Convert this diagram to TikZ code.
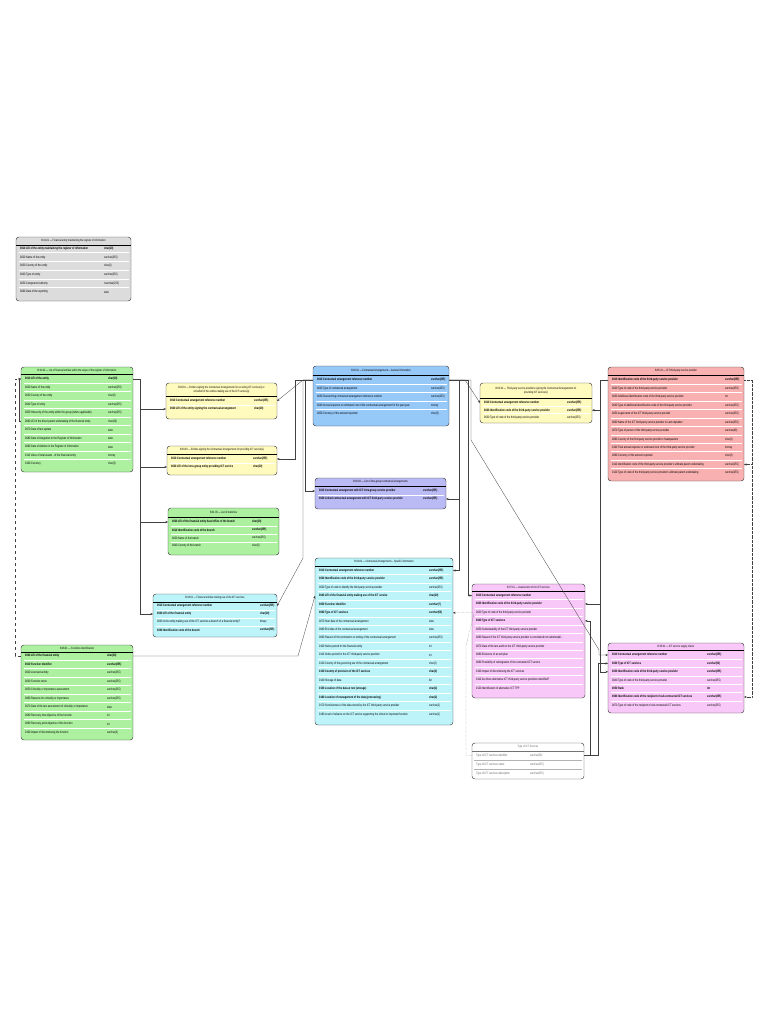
\documentclass[tikz,border=0pt]{standalone}
\usepackage{fontspec}
\setmainfont{Liberation Sans}[FakeStretch=0.72]
\usetikzlibrary{arrows.meta}
\definecolor{cgrey}{RGB}{220,220,220}
\definecolor{cgreen}{RGB}{172,240,160}
\definecolor{cyellow}{RGB}{255,250,190}
\definecolor{cblue}{RGB}{150,200,248}
\definecolor{cpurple}{RGB}{186,186,244}
\definecolor{ccyan}{RGB}{188,244,250}
\definecolor{csalmon}{RGB}{248,176,176}
\definecolor{cpink}{RGB}{248,200,248}
\newcommand\rowfont{\fontsize{3.3}{3.6}\selectfont}
\newcommand\hdrfont{\fontsize{3.1}{4.2}\selectfont}
\tikzset{
  tbox/.style={draw=black!75, line width=0.45pt, rounded corners=3pt, inner sep=0pt, outer sep=0pt, anchor=north west},
  hdr/.style={font=\hdrfont, align=center, inner sep=0pt},
  rtxt/.style={font=\rowfont, inner sep=0pt, anchor=west},
  sepline/.style={white, line width=0.8pt},
  hline/.style={black, line width=0.9pt},
  conn/.style={draw=black!75, line width=0.3pt, -{Stealth[length=2.6pt,width=2.2pt]}},
  conndot/.style={conn, densely dotted},
}
% #1 name #2 x1 #3 y1 #4 x2 #5 y2 #6 colour #7 header #8 header line y
\newcommand\ertbl[8]{%
  \node[tbox, fill=#6, minimum width={#4-#2}, minimum height={#5-#3}] (#1) at (#2,#3) {};
  \node[hdr] (#1-h) at ({(#2+#4)/2},{(#3+#8)/2}) {#7};
  \draw[hline] (#2,#8) -- (#4,#8);
}
% #1 name #2 x1 #3 x2 #4 first y #5 dy #6 type offset #7 list
\newcommand\ertrows[7]{%
  \foreach \rc/\rt/\ry/\rb [count=\ri] in {#7}{%
    \pgfmathsetmacro\yy{#4+(\ri-1)*#5}
    \ifnum\ri>1 \draw[sepline] (#2+2.5,\yy-#5/2) -- (#3-2.5,\yy-#5/2);\fi
    \node[rtxt] (#1-\ri) at (#2+4,\yy) {\ifnum\rb=1 \bfseries\fi\rc\ \rt};
    \node[rtxt] (#1-\ri t) at (#2+#6,\yy) {\ifnum\rb=1 \bfseries\fi\ry};
    \coordinate (#1-\ri-w) at (#2,\yy);
    \coordinate (#1-\ri-e) at (#3,\yy);
  }}
\begin{document}
\begin{tikzpicture}[x=1pt,y=-1pt]
\useasboundingbox (0,0) rectangle (768,1024);
\fill[white] (0,0) rectangle (768,1024);

% B.01.01
\ertbl{ba}{16}{237}{131}{301}{cgrey}{B.01.01 — Financial entity maintaining the register of information}{245}
\ertrows{ba}{16}{131}{248.5}{8.7}{88}{0010/LEI of the entity maintaining the register of information/char(20)/1,
0020/Name of the entity/varchar(255)/0,
0030/Country of the entity/char(2)/0,
0040/Type of entity/varchar(255)/0,
0050/Competent Authority/nvarchar(255)/0,
0060/Date of the reporting/date/0}

% B.01.02
\ertbl{bb}{21}{367}{133}{472}{cgreen}{B.01.02 — List of financial entities within the scope of the register of information}{374}
\ertrows{bb}{21}{133}{379}{8.5}{87}{0010/LEI of the entity/char(20)/1,
0020/Name of the entity/varchar(255)/0,
0030/Country of the entity/char(2)/0,
0040/Type of entity/varchar(255)/0,
0050/Hierarchy of the entity within the group (where applicable)/varchar(255)/0,
0060/LEI of the direct parent undertaking of the financial entity/char(20)/0,
0070/Date of last update/date/0,
0080/Date of integration in the Register of information/date/0,
0090/Date of deletion in the Register of information/date/0,
0110/Value of total assets - of the financial entity/money/0,
0100/Currency/char(3)/0}

% B.03.01
\ertbl{ca}{166}{383}{277}{419}{cyellow}{B.03.01 — Entities signing the Contractual Arrangements for receiving ICT service(s) or\\on behalf of the entities making use of the ICT service(s)}{396}
\ertrows{ca}{166}{277}{401}{8}{88}{0010/Contractual arrangement reference number/varchar(255)/1,
0020/LEI of the entity signing the contractual arrangement/char(20)/1}

% B.03.03
\ertbl{cc}{167}{446}{277}{475}{cyellow}{B.03.03 — Entities signing the Contractual Arrangements for providing ICT service(s)}{454}
\ertrows{cc}{167}{277}{459}{8}{86}{0010/Contractual arrangement reference number/varchar(255)/1,
0020/LEI of the intra-group entity providing ICT service/char(20)/1}

% B.02.01
\ertbl{da}{313}{366}{449}{426}{cblue}{B.02.01 — Contractual Arrangements – General Information}{375}
\ertrows{da}{313}{449}{380}{8.5}{118}{0010/Contractual arrangement reference number/varchar(255)/1,
0020/Type of contractual arrangement/varchar(255)/0,
0030/Overarching contractual arrangement reference number/varchar(255)/0,
0040/Annual expense or estimated cost of the contractual arrangement for the past year/money/0,
0050/Currency of the amount reported/char(3)/0}

% B.02.03
\ertbl{dc}{315}{478}{446}{509}{cpurple}{B.02.03 — List of intra-group contractual arrangements}{486}
\ertrows{dc}{315}{446}{491}{8}{108}{0010/Contractual arrangement with ICT intra-group service provider/varchar(255)/1,
0020/Linked contractual arrangement with ICT third-party service provider/varchar(255)/1}

% B.03.02
\ertbl{cb}{480}{383}{592}{423}{cyellow}{B.03.02 — Third-party service providers signing the Contractual Arrangements for\\providing ICT service(s)}{398}
\ertrows{cb}{480}{592}{403}{7.2}{87}{0010/Contractual arrangement reference number/varchar(255)/1,
0020/Identification code of the third-party service provider/varchar(255)/1,
0030/Type of code of the third-party service provider/varchar(255)/0}

% B.05.01
\ertbl{ea}{608}{367}{744}{481}{csalmon}{B.05.01 — ICT third-party service provider}{375}
\ertrows{ea}{608}{744}{380}{8.45}{117}{0010/Identification code of the third-party service provider/varchar(255)/1,
0020/Type of code of the third-party service provider/varchar(255)/0,
0030/Additional identification code of the third-party service provider/txt/0,
0040/Type of additional identification code of the third-party service provider/varchar(255)/0,
0050/Legal name of the ICT third-party service provider/varchar(255)/0,
0060/Name of the ICT third-party service provider in Latin alphabet/varchar(255)/0,
0070/Type of person of the third-party service provider/varchar(40)/0,
0080/Country of the third-party service provider's headquarters/char(2)/0,
0100/Total annual expense or estimated cost of the third-party service provider/money/0,
0090/Currency of the amount reported/char(3)/0,
0110/Identification code of the third-party service provider's ultimate parent undertaking/varchar(255)/0,
0120/Type of code of the third-party service provider's ultimate parent undertaking/varchar(255)/0}

% B.01.03
\ertbl{bc}{168}{508}{279}{555}{cgreen}{B.01.03 — List of branches}{517}
\ertrows{bc}{168}{279}{522}{8}{84}{0020/LEI of the financial entity head office of the branch/char(20)/1,
0010/Identification code of the branch/varchar(255)/1,
0030/Name of the branch/varchar(255)/0,
0040/Country of the branch/char(2)/0}

% B.04.01
\ertbl{fa}{153}{594}{277}{637}{ccyan}{B.04.01 — Financial entities making use of the ICT services}{602}
\ertrows{fa}{153}{277}{606}{8}{107}{0010/Contractual arrangement reference number/varchar(255)/1,
0020/LEI of the financial entity/char(20)/1,
0030/Is the entity making use of the ICT services a branch of a financial entity?/binary/0,
0040/Identification code of the branch/varchar(255)/1}

% B.06.01
\ertbl{ga}{21}{645}{133}{740}{cgreen}{B.06.01 — Functions Identification}{652}
\ertrows{ga}{21}{133}{656}{8.5}{86}{0040/LEI of the financial entity/char(20)/1,
0010/Function Identifier/varchar(255)/1,
0020/Licensed activity/varchar(255)/0,
0030/Function name/varchar(255)/0,
0050/Criticality or importance assessment/varchar(255)/0,
0060/Reasons for criticality or importance/varchar(255)/0,
0070/Date of the last assessment of criticality or importance/date/0,
0080/Recovery time objective of the function/int/0,
0090/Recovery point objective of the function/int/0,
0100/Impact of discontinuing the function/varchar(3)/0}

% B.02.02
\ertbl{db}{315}{558}{453}{725}{ccyan}{B.02.02 — Contractual Arrangements – Specific information}{566}
\ertrows{db}{315}{453}{570.5}{8.45}{114}{0010/Contractual arrangement reference number/varchar(255)/1,
0020/Identification code of the third-party service provider/varchar(255)/1,
0030/Type of code to identify the third-party service provider/varchar(255)/0,
0040/LEI of the financial entity making use of the ICT service/char(20)/1,
0050/Function Identifier/varchar(?)/1,
0060/Type of ICT services/varchar(50)/1,
0070/Start date of the contractual arrangement/date/0,
0080/End date of the contractual arrangement/date/0,
0090/Reason of the termination or ending of the contractual arrangement/varchar(255)/0,
0100/Notice period for the financial entity/int/0,
0110/Notice period for the ICT third-party service provider/int/0,
0120/Country of the governing law of the contractual arrangement/char(2)/0,
0130/Country of provision of the ICT services/char(2)/1,
0140/Storage of data/bit/0,
0150/Location of the data at rest (storage)/char(2)/1,
0160/Location of management of the data (processing)/char(2)/1,
0170/Sensitiveness of the data stored by the ICT third-party service provider/varchar(2)/0,
0180/Level of reliance on the ICT service supporting the critical or important function/varchar(2)/0}

% B.07.01
\ertbl{ha}{472}{584}{585}{698}{cpink}{B.07.01 — Assessment of the ICT services}{591}
\ertrows{ha}{472}{585}{595.5}{8.45}{110}{0010/Contractual arrangement reference number/{}/1,
0020/Identification code of the third-party service provider/{}/1,
0030/Type of code of the third-party service provider/{}/0,
0040/Type of ICT services/{}/1,
0050/Substitutability of the ICT third-party service provider/{}/0,
0060/Reason if the ICT third-party service provider is considered not substitutabl\ldots/{}/0,
0070/Date of the last audit on the ICT third-party service provider/{}/0,
0080/Existence of an exit plan/{}/0,
0090/Possibility of reintegration of the contracted ICT service/{}/0,
0100/Impact of discontinuing the ICT services/{}/0,
0110/Are there alternative ICT third-party service providers identified?/{}/0,
0120/Identification of alternative ICT TPP/{}/0}

% B.05.02
\ertbl{eb}{608}{643}{744}{713}{cpink}{B.05.02 — ICT service supply chains}{650}
\ertrows{eb}{608}{744}{655}{8.4}{99}{0010/Contractual arrangement reference number/varchar(255)/1,
0020/Type of ICT services/varchar(50)/1,
0030/Identification code of the third-party service provider/varchar(255)/1,
0040/Type of code of the third-party service provider/varchar(255)/0,
0050/Rank/int/1,
0060/Identification code of the recipient of sub-contracted ICT services/varchar(255)/1,
0070/Type of code of the recipient of sub-contracted ICT services/varchar(255)/0}

% Type of ICT Services
\begin{scope}[every node/.append style={text=black!60}]
\ertbl{ta}{472}{743}{584}{779}{white}{Type of ICT Services}{751}
\end{scope}
\draw[white,line width=2pt] (473,751) -- (583,751);
\draw[black!55,line width=0.6pt] (472,751) -- (584,751);
\begin{scope}[every node/.append style={text=black!60}]
\ertrows{ta}{472}{584}{755.5}{9}{58}{Type of ICT services identifier/{}/varchar(50)/0,
Type of ICT services name/{}/varchar(255)/0,
Type of ICT services description/{}/varchar(255)/0}
\end{scope}
\foreach \k in {1,2} \draw[black!30,line width=0.3pt] (474,{755.5+(\k-0.5)*9}) -- (582,{755.5+(\k-0.5)*9});

% ---------- connectors ----------
% B.01.02 self reference and B.06.01
\draw[conn,dashed] (ga-1-w) -- ++(-6,0) |- (bb-1-w);
\draw[conn] (bb-6-w) -- ++(-2,0) |- (bb-1-w);
% B.01.02 LEI to users
\draw[conn] (bb-1-e) -- ++(7,0) |- (ca-2-w);
\draw[conn] (bb-1-e) -- ++(7,0) |- (cc-2-w);
\draw[conn] (bb-1-e) -- ++(7,0) |- (bc-1-w);
\draw[conn] (bb-1-e) -- ++(7,0) |- (fa-2-w);
% B.06.01 to B.02.02
\draw[conn] (ga-1-e) -- ++(165,0) -- (db-4-w);
% B.02.01 left side
\draw[conn] (da-1-w) -- ++(-10,0) -- (ca-1-e);
\draw[conn] (da-1-w) -- ++(-18,0) |- (cc-1-e);
\draw[conn] (da-1-w) -- ++(-8,0) |- (dc-1-w);
\draw[conn] (da-1-w) -- ++(-10,0) -- ++(0,178) -- (fa-1-e);
% B.02.01 right side
\draw[conn] (da-1-e) -- ++(10,0) |- (db-1-e);
\draw[conn] (da-1-e) -- ++(10,0) |- (dc-2-e);
\draw[conn] (da-1-e) -- ++(16,0) -- (cb-1-w);
\draw[conn] (da-1-e) -- ++(19,0) |- (ha-1-w);
\draw[conn] (da-1-e) -- ++(22,0) -- ++(0,60) -- ++(128,210) |- (eb-1-w);
% B.05.01 identification code
\draw[conn] (ea-1-w) -- ++(-8,0) |- (cb-2-e);
\draw[conn] (ea-1-w) -- ++(-8,0) |- (ha-2-e);
\draw[conn] (ea-1-w) -- ++(-8,0) |- (eb-3-w);
\draw[conndot] (ea-1-e) -- ++(8,0) |- (ea-11-e);
\draw[conndot] (ea-1-e) -- ++(8,0) |- (eb-6-e);
% Type of ICT services
\draw[conndot] (ta-1-w) -- ++(-6,0) -- ++(0,-110) -- ++(8,-32) |- (db-6-e);
\draw[conn] (ta-1-e) -- ++(6,0) |- (ha-4-e);
\draw[conn] (ta-1-e) -- ++(14,0) |- (eb-2-w);
\end{tikzpicture}
\end{document}
